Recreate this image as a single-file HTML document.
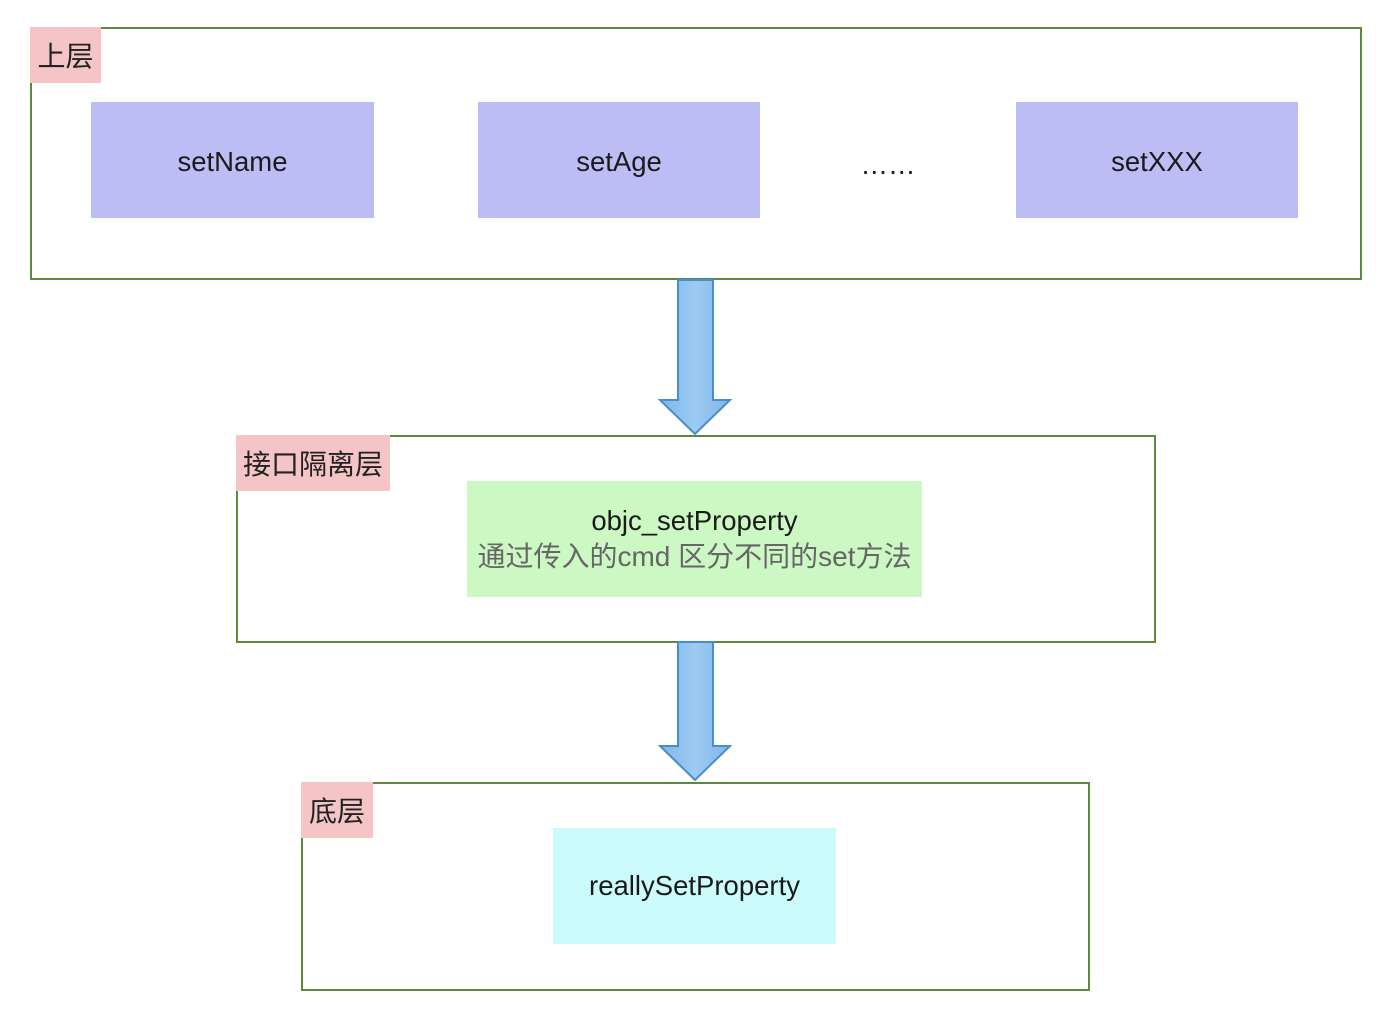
<!DOCTYPE html>
<html><head><meta charset="utf-8"><style>
body{margin:0;width:1388px;height:1014px;background:#fff;position:relative;overflow:hidden;font-family:"Liberation Sans","Noto Sans CJK SC",sans-serif;}
.a{position:absolute;box-sizing:border-box;}
.frame{border:2px solid #5a8a3a;}
.tag{background:#f4c4c6;color:#222;font-size:28px;display:flex;align-items:center;justify-content:center;}
.box{display:flex;flex-direction:column;align-items:center;justify-content:center;font-size:27.5px;color:#1a1a1a;}
.p{background:#bdbdf6;}
</style></head><body>
<div class="a frame" style="left:30px;top:27px;width:1332px;height:253px"></div>
<div class="a tag" style="left:30px;top:27px;width:71px;height:56px">上层</div>
<div class="a box p" style="left:91px;top:102px;width:283px;height:116px;padding-top:4px">setName</div>
<div class="a box p" style="left:478px;top:102px;width:282px;height:116px;padding-top:4px">setAge</div>
<div class="a box" style="left:840px;top:145px;width:96px;height:40px">……</div>
<div class="a box p" style="left:1016px;top:102px;width:282px;height:116px;padding-top:4px">setXXX</div>

<div class="a frame" style="left:236px;top:435px;width:920px;height:208px"></div>
<div class="a tag" style="left:236px;top:435px;width:154px;height:56px">接口隔离层</div>
<div class="a box" style="left:467px;top:481px;width:455px;height:116px;background:#ccf8c4;line-height:36px">
<div>objc_setProperty</div><div style="color:#666;font-size:28px">通过传入的cmd 区分不同的set方法</div></div>

<div class="a frame" style="left:301px;top:782px;width:789px;height:209px"></div>
<div class="a tag" style="left:301px;top:782px;width:72px;height:56px">底层</div>
<div class="a box" style="left:553px;top:828px;width:283px;height:116px;background:#ccfbfb">reallySetProperty</div>

<svg class="a" style="left:0;top:0" width="1388" height="1014">
<defs><linearGradient id="g" x1="0" x2="1"><stop offset="0" stop-color="#7fb6ea"/><stop offset="0.5" stop-color="#9ccbf3"/><stop offset="1" stop-color="#7fb6ea"/></linearGradient></defs>
<polygon points="678,280 713,280 713,400 730,400 695,434 660,400 678,400" fill="url(#g)" stroke="#4a8ec9" stroke-width="2"/>
<polygon points="678,642 713,642 713,746 730,746 695,780 660,746 678,746" fill="url(#g)" stroke="#4a8ec9" stroke-width="2"/>
</svg>
</body></html>
